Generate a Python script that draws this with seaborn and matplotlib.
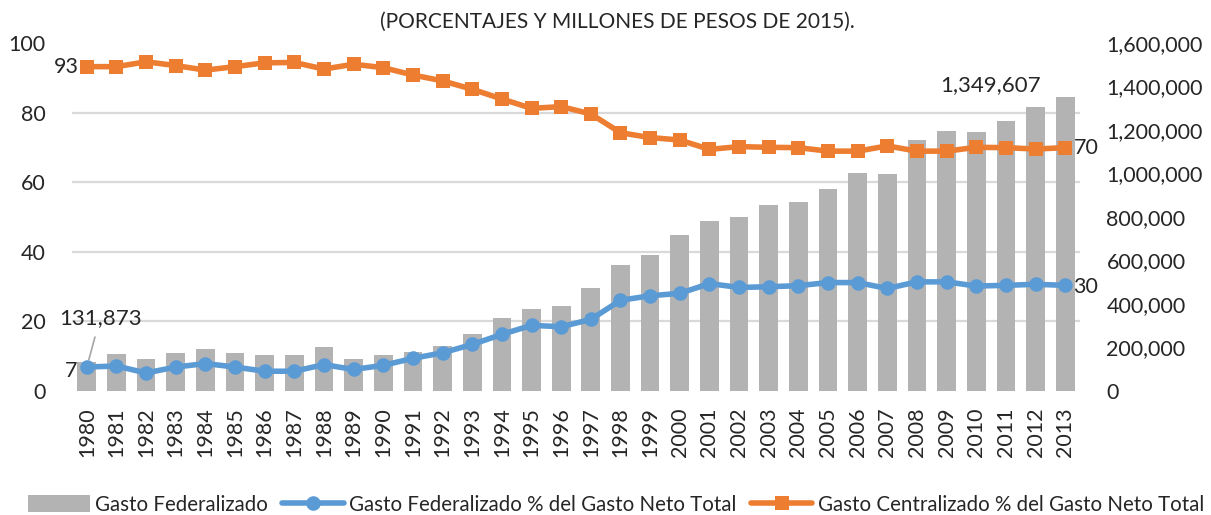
import numpy as np
import pandas as pd
import matplotlib
matplotlib.use("Agg")
import matplotlib.pyplot as plt
from matplotlib.ticker import MultipleLocator, FuncFormatter
from matplotlib.patches import Patch
from matplotlib.lines import Line2D
import seaborn as sns

years = [str(y) for y in range(1980, 2014)]
gasto_federalizado = [131873, 166700, 143700, 174000, 192500, 174000, 162000, 163500,
                      199000, 146400, 163500, 178700, 205000, 260000, 335000, 374000,
                      387700, 470600, 576500, 625300, 716000, 781800, 797500, 855500,
                      868000, 926000, 1002800, 996800, 1153400, 1194800, 1190200,
                      1240900, 1306700, 1349607]
pct_federalizado = [6.8, 7.1, 5.1, 6.8, 7.8, 6.8, 5.6, 5.6, 7.5, 6.1, 7.3, 9.3, 10.9,
                    13.3, 16.2, 18.8, 18.4, 20.5, 26.0, 27.3, 28.0, 30.8, 29.7, 29.9,
                    30.2, 31.1, 31.1, 29.4, 31.3, 31.3, 30.1, 30.3, 30.6, 30.3]
pct_centralizado = [93.2, 93.2, 94.6, 93.5, 92.2, 93.2, 94.3, 94.4, 92.5, 93.9, 92.9,
                    90.8, 89.1, 86.7, 83.9, 81.2, 81.7, 79.6, 74.2, 72.8, 72.1, 69.4,
                    70.2, 70.0, 69.9, 68.9, 68.9, 70.4, 68.9, 68.9, 70.0, 69.9, 69.5,
                    69.9]
series_names = ["Gasto Federalizado",
                "Gasto Federalizado % del Gasto Neto Total",
                "Gasto Centralizado % del Gasto Neto Total"]
title_text = "(PORCENTAJES Y MILLONES DE PESOS DE 2015)."

df = pd.DataFrame({"year": years, "fed": gasto_federalizado,
                   "pf": pct_federalizado, "pc": pct_centralizado})
df["pos"] = np.arange(len(df))

sns.set_theme(style="white")
plt.rcParams["font.family"] = ["Lato", "DejaVu Sans"]

GRAY = "#B3B3B3"
BLUE = "#5B9BD5"
ORANGE = "#ED7D31"
GRID = "#D9D9D9"
TXT = "#262626"
FS = 15.5

fig = plt.figure(figsize=(12.11, 5.15), dpi=100)
ax = fig.add_axes([72 / 1211, 124.3 / 515, 1008 / 1211, 347.7 / 515])
ax.set_facecolor("none")

# bars on primary axis (value axis shown at right)
sns.barplot(data=df, x="year", y="fed", ax=ax, color=GRAY, width=0.63,
            saturation=1, edgecolor="none", zorder=2)
ax.set_ylim(0, 1600000)
ax.set_xlim(-0.5, len(years) - 0.5)
ax.yaxis.set_major_locator(MultipleLocator(200000))
ax.yaxis.set_minor_locator(MultipleLocator(320000))
ax.yaxis.set_major_formatter(FuncFormatter(lambda v, p: f"{int(v):,}"))
ax.grid(False)
ax.grid(True, which="minor", axis="y", color=GRID, linewidth=1.6, zorder=0)
ax.set_axisbelow(True)
ax.set_xlabel("")
ax.set_ylabel("")
for s in ax.spines.values():
    s.set_visible(False)

# percentage lines on twin axis (scale shown at left)
ax2 = ax.twinx()
sns.lineplot(data=df, x="pos", y="pf", ax=ax2, color=BLUE, linewidth=4,
             marker="o", markersize=10.5, markeredgewidth=0, zorder=3)
sns.lineplot(data=df, x="pos", y="pc", ax=ax2, color=ORANGE, linewidth=4,
             marker="s", markersize=9.8, markeredgewidth=0, zorder=3)
ax2.set_ylim(0, 100)
ax2.yaxis.set_major_locator(MultipleLocator(20))
ax2.set_xlabel("")
ax2.set_ylabel("")
ax2.grid(False)
ax2.set_xlim(-0.5, len(years) - 0.5)
for s in ax2.spines.values():
    s.set_visible(False)

# put scales on their sides (after twinx)
ax.yaxis.tick_right()
ax.yaxis.set_label_position("right")
ax2.yaxis.tick_left()
ax2.yaxis.set_label_position("left")
ax.tick_params(axis="y", which="both", length=0, pad=19, labelsize=FS, labelcolor=TXT,
               left=False, labelleft=False, right=False, labelright=True)
ax.tick_params(axis="x", length=0, pad=12, labelsize=FS, labelcolor=TXT, rotation=90)
ax2.tick_params(axis="y", length=0, pad=19, labelsize=FS, labelcolor=TXT,
                right=False, labelright=False, left=False, labelleft=True)

# data labels
n = len(years) - 1
ax2.annotate(f"{pct_centralizado[0]:.0f}", (0, pct_centralizado[0]), xytext=(-6, 0),
             textcoords="offset points", ha="right", va="center", fontsize=FS, color=TXT)
ax2.annotate(f"{pct_federalizado[0]:.0f}", (0, pct_federalizado[0]), xytext=(-7, -2.5),
             textcoords="offset points", ha="right", va="center", fontsize=FS, color=TXT)
ax2.annotate(f"{pct_centralizado[n]:.0f}", (n, pct_centralizado[n]), xytext=(6.5, 0),
             textcoords="offset points", ha="left", va="center", fontsize=FS, color=TXT)
ax2.annotate(f"{pct_federalizado[n]:.0f}", (n, pct_federalizado[n]), xytext=(6, -1),
             textcoords="offset points", ha="left", va="center", fontsize=FS, color=TXT)
ax2.annotate(f"{gasto_federalizado[0]:,}", (0, pct_federalizado[0]), xytext=(9.5, 35),
             textcoords="offset points", ha="center", va="center", fontsize=16, color=TXT,
             arrowprops=dict(arrowstyle="-", color="#A6A6A6", lw=1.2,
                             shrinkA=4, shrinkB=5.5))
ax.annotate(f"{gasto_federalizado[n]:,}", (n, gasto_federalizado[n]), xytext=(-54, 9),
            textcoords="offset points", ha="center", va="center", fontsize=16, color=TXT)

fig.text(617 / 1211, 1 - 22 / 515, title_text, ha="center", va="center",
         fontsize=15, color=TXT)

handles = [Patch(facecolor=GRAY, edgecolor="none"),
           Line2D([0], [0], color=BLUE, lw=4, marker="o", markersize=10.5,
                  markeredgewidth=0),
           Line2D([0], [0], color=ORANGE, lw=4, marker="s", markersize=9.8,
                  markeredgewidth=0)]
fig.legend(handles, series_names, loc="center", bbox_to_anchor=(616 / 1211, 1 - 505 / 515),
           ncol=3, frameon=False, fontsize=14.8, handlelength=3.0, handletextpad=0.25,
           columnspacing=0.7, labelcolor=TXT, handleheight=0.9, borderpad=0)

fig.savefig("out.png", dpi=100)
